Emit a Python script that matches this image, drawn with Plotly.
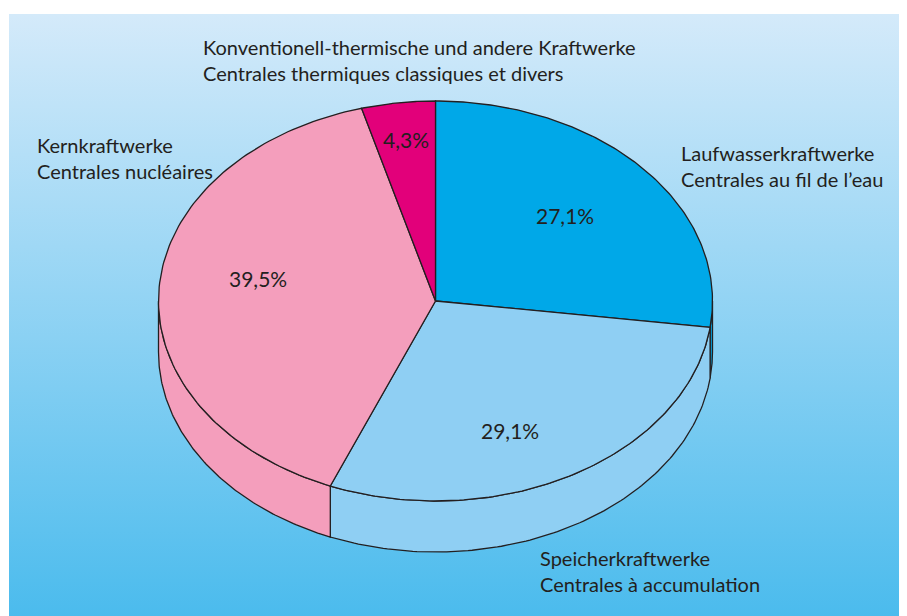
import numpy as np
import plotly.graph_objects as go

# ========================
# Data
# ========================
names_de = ["Laufwasserkraftwerke", "Speicherkraftwerke", "Kernkraftwerke",
            "Konventionell-thermische und andere Kraftwerke"]
names_fr = ["Centrales au fil de l’eau", "Centrales à accumulation",
            "Centrales nucléaires", "Centrales thermiques classiques et divers"]
shares = [27.1, 29.1, 39.5, 4.3]

# ========================
# Styling / layout
# ========================
colors = ["#00A8E8", "#8FCFF3", "#F49EBC", "#E2007A"]
EDGE = "#231F20"
CX, CY, RX, RY, DEPTH = 435.5, 301, 277, 200, 51
OFF = 8  # page body margin, so axis units match window pixels
W, H = 907 - OFF, 616 - OFF

# label positions (pixel space) for the name blocks and the percentages
name_pos = [(679, 166), (538, 571), (35, 158), (201, 60)]
pct_pos = [(565, 215), (510, 430), (258, 278), (406, 139)]


def ellipse_pts(a0, a1, dy=0, n=120):
    t = np.radians(np.linspace(a0, a1, n))
    return CX + RX * np.sin(t), CY - RY * np.cos(t) + dy


fig = go.Figure()

# gradient background panel
fig.add_trace(go.Scatter(
    x=[9, 910, 910, 9, 9], y=[14, 14, 620, 620, 14],
    mode="lines", fill="toself", line=dict(width=0),
    fillgradient=dict(type="vertical",
                      colorscale=[[0, "#4ABBED"], [1, "#D4EAFA"]]),
    hoverinfo="skip"))

total = sum(shares)
bounds = np.concatenate([[0], np.cumsum(shares) / total * 360])

# side walls (front half only)
for i, c in enumerate(colors):
    a0, a1 = max(bounds[i], 90), min(bounds[i + 1], 270)
    if a1 <= a0:
        continue
    xt, yt = ellipse_pts(a0, a1)
    xb, yb = ellipse_pts(a0, a1, DEPTH)
    xs = np.concatenate([xt, xb[::-1], xt[:1]])
    ys = np.concatenate([yt, yb[::-1], yt[:1]])
    fig.add_trace(go.Scatter(x=xs, y=ys, mode="lines", fill="toself",
                             fillcolor=c, line=dict(color=EDGE, width=1.3),
                             hoverinfo="skip"))

# top faces
for i, c in enumerate(colors):
    xa, ya = ellipse_pts(bounds[i], bounds[i + 1])
    xs = np.concatenate([[CX], xa, [CX]])
    ys = np.concatenate([[CY], ya, [CY]])
    fig.add_trace(go.Scatter(x=xs, y=ys, mode="lines", fill="toself",
                             fillcolor=c, line=dict(color=EDGE, width=1.3),
                             hoverinfo="skip"))

font = dict(family="Lato", size=20, color=EDGE)
for i in range(len(shares)):
    fig.add_annotation(x=name_pos[i][0], y=name_pos[i][1],
                       text=f"{names_de[i]}<br>{names_fr[i]}",
                       xanchor="left", yanchor="middle", align="left",
                       showarrow=False, font=font)
    pct = f"{shares[i]:.1f}".replace(".", ",") + "%"
    fig.add_annotation(x=pct_pos[i][0], y=pct_pos[i][1], text=pct,
                       showarrow=False, font=dict(family="Lato", size=21, color=EDGE))

fig.update_layout(
    width=W, height=H, margin=dict(l=0, r=0, t=0, b=0),
    paper_bgcolor="white", plot_bgcolor="white", showlegend=False,
    xaxis=dict(range=[OFF, OFF + W], visible=False, fixedrange=True),
    yaxis=dict(range=[OFF + H, OFF], visible=False, fixedrange=True),
)

fig.write_html("out.html")
